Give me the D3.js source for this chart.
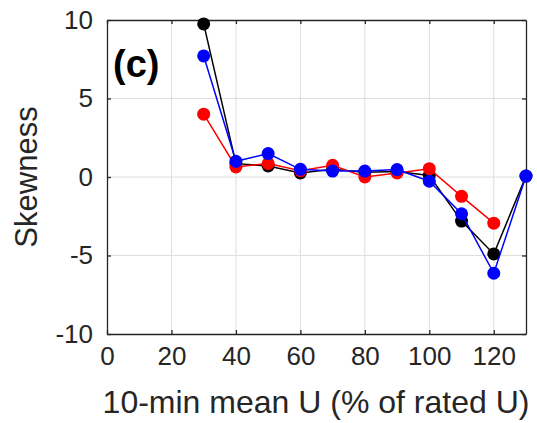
<!DOCTYPE html>
<html>
<head>
<meta charset="utf-8">
<script src="https://cdn.jsdelivr.net/npm/d3@7"></script>
<style>
  body { margin: 0; background: #fff; }
  text { font-family: Arial, "Liberation Sans", Helvetica, sans-serif; fill: #262626; }
</style>
</head>
<body>
<script>
 // wind speed bins (% of rated U)
 const speeds = [30, 40, 50, 60, 70, 80, 90, 100, 110, 120, 130];
 // skewness per series
 const skewBlack = [9.75, 0.85, 0.7, 0.26, 0.5, 0.3, 0.35, 0.1, -2.81, -4.9, 0.06];
 const skewRed   = [4.0, 0.64, 0.86, 0.4, 0.75, 0.0, 0.26, 0.53, -1.23, -2.94];
 const skewBlue  = [7.71, 1.0, 1.49, 0.49, 0.38, 0.38, 0.47, -0.27, -2.34, -6.13, 0.06];
 const xTicks = [0, 20, 40, 60, 80, 100, 120];
 const yTicks = [-10, -5, 0, 5, 10];

 const series = [
   { color: '#000000', values: skewBlack },
   { color: '#ff0000', values: skewRed },
   { color: '#0000ff', values: skewBlue }
 ];

 // constants
 const width = 537;
 const height = 423;
 const margin = { top: 20, bottom: 89, left: 107, right: 11 };
 const axisColor = '#262626';

 const svg = d3.select('body').append('svg')
       .attr('width', width).attr('height', height);

 const xScale = d3.scaleLinear().domain([0, 130])
       .range([margin.left, width - margin.right]);
 const yScale = d3.scaleLinear().domain([-10, 10])
       .range([height - margin.bottom, margin.top]);

 // grid
 svg.append('g').selectAll('line').data(xTicks.filter(d => d > 0)).enter().append('line')
    .attr('x1', d => xScale(d)).attr('x2', d => xScale(d))
    .attr('y1', yScale(-10)).attr('y2', yScale(10))
    .style('stroke', '#dedede').style('stroke-width', 1);
 svg.append('g').selectAll('line').data(yTicks.filter(d => d > -10 && d < 10)).enter().append('line')
    .attr('x1', xScale(0)).attr('x2', xScale(130))
    .attr('y1', d => yScale(d)).attr('y2', d => yScale(d))
    .style('stroke', '#dedede').style('stroke-width', 1);

 // axes (inward ticks, matlab style), plain hyphen for negatives
 const fmt = d => String(d);
 const xAxis = svg.append('g').attr('transform', `translate(0, ${yScale(-10)})`)
    .call(d3.axisBottom(xScale).tickValues(xTicks).tickFormat(fmt).tickSizeInner(-4).tickSizeOuter(0).tickPadding(13));
 const xTop = svg.append('g').attr('transform', `translate(0, ${yScale(10)})`)
    .call(d3.axisTop(xScale).tickValues(xTicks).tickSizeInner(-4).tickSizeOuter(0).tickFormat(''));
 const yAxis = svg.append('g').attr('transform', `translate(${xScale(0)}, 0)`)
    .call(d3.axisLeft(yScale).tickValues(yTicks).tickFormat(fmt).tickSizeInner(-4).tickSizeOuter(0).tickPadding(14));
 const yRight = svg.append('g').attr('transform', `translate(${xScale(130)}, 0)`)
    .call(d3.axisRight(yScale).tickValues(yTicks).tickSizeInner(-4).tickSizeOuter(0).tickFormat(''));

 [xAxis, xTop, yAxis, yRight].forEach(g => {
   g.selectAll('path, line').style('stroke', axisColor).style('stroke-width', 1.3);
   g.selectAll('text').style('font-size', '26px').style('fill', axisColor)
    .style('font-family', 'Arial, "Liberation Sans", sans-serif');
 });
 xAxis.selectAll('text').attr('dy', '0.71em');

 // lines and points
 series.forEach(s => {
   const pts = s.values.map((v, i) => [speeds[i], v]);
   svg.append('path').datum(pts)
      .attr('d', d3.line().x(d => xScale(d[0])).y(d => yScale(d[1])))
      .style('fill', 'none').style('stroke', s.color).style('stroke-width', 1.5);
   svg.append('g').selectAll('circle').data(pts).enter().append('circle')
      .attr('cx', d => xScale(d[0])).attr('cy', d => yScale(d[1]))
      .attr('r', 6.5).style('fill', s.color);
 });

 // labels
 svg.append('text').attr('x', 113).attr('y', 77)
    .style('font-size', '38px').style('font-weight', 'bold').style('fill', '#000')
    .text('(c)');
 svg.append('text')
    .attr('transform', `translate(37, ${yScale(0)}) rotate(-90)`)
    .attr('text-anchor', 'middle')
    .style('font-size', '31px')
    .text('Skewness');
 svg.append('text').attr('x', 316).attr('y', 413)
    .attr('text-anchor', 'middle')
    .style('font-size', '32px')
    .text('10-min mean U (% of rated U)');
</script>
</body>
</html>
